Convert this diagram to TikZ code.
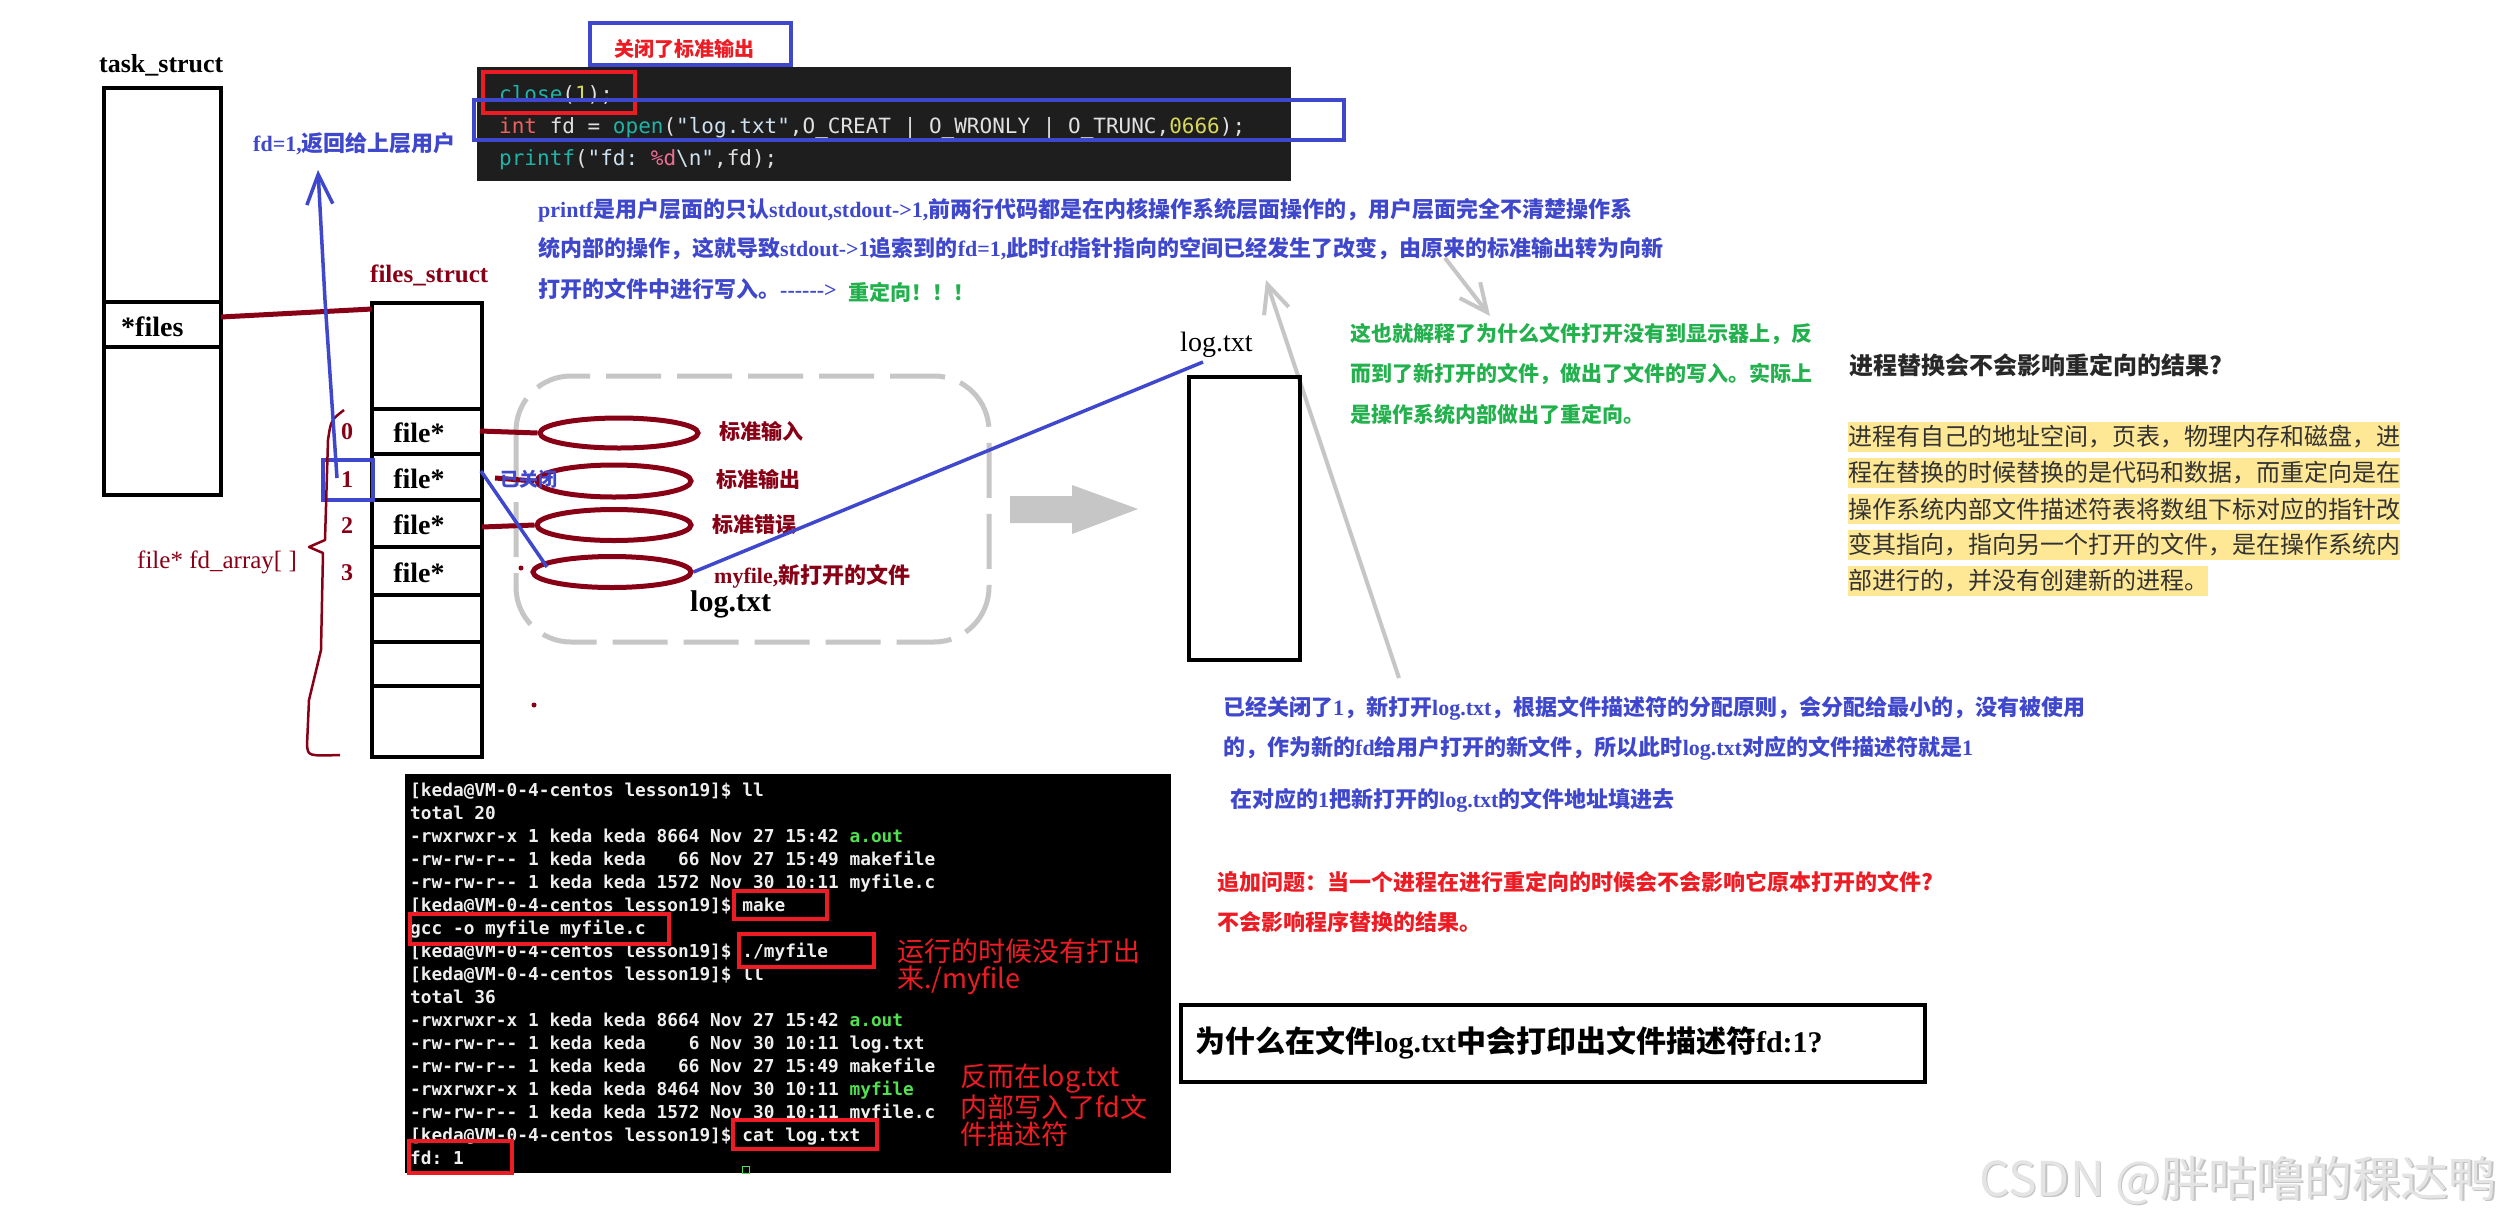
\documentclass[tikz,border=0pt]{standalone}
\usepackage{fontspec}
\setmainfont{Liberation Serif}
\setmonofont{DejaVu Sans Mono}[Ligatures=TeXOff]
\newfontfamily\cjk{Noto Sans CJK SC}
\newfontfamily\tnr{Liberation Serif}
\usetikzlibrary{arrows.meta,shapes.geometric}
\newcommand\fsz[1]{\fontsize{#1}{#1}\selectfont}
\newcommand\hy{-\kern0pt}
\definecolor{dred}{RGB}{136,0,21}
\definecolor{pblue}{RGB}{63,72,204}
\definecolor{pred}{RGB}{237,28,36}
\definecolor{pgreen}{RGB}{34,177,76}
\definecolor{lgray}{RGB}{198,198,198}
\definecolor{codebg}{RGB}{30,30,30}
\definecolor{hl}{RGB}{254,232,150}
\definecolor{cteal}{RGB}{30,180,168}
\definecolor{cint}{RGB}{240,96,96}
\definecolor{cnum}{RGB}{215,215,90}
\definecolor{cstr}{RGB}{206,225,240}
\definecolor{cpink}{RGB}{240,110,150}
\definecolor{cwhite}{RGB}{225,225,225}
\definecolor{twhite}{RGB}{238,238,238}
\definecolor{tgreen}{RGB}{80,225,80}
\definecolor{darktxt}{RGB}{40,40,40}
\definecolor{paratxt}{RGB}{51,51,51}
\definecolor{wm}{RGB}{228,228,228}
\definecolor{wmshadow}{RGB}{195,195,195}
\begin{document}
\begin{tikzpicture}[x=1pt,y=-1pt,
  lbl/.style={inner sep=0pt, anchor=west},
  blk/.style={draw=black, line width=4.5pt},
  drl/.style={draw=dred, line width=5pt},
  bl/.style={draw=pblue, line width=3.5pt},
  rbox/.style={draw=pred, line width=4pt},
  tbox/.style={draw=pred, line width=3.5pt},
  gr/.style={draw=lgray, line width=4pt},
  ell/.style={draw=dred, line width=5pt, ellipse, inner sep=0pt},
  tl/.style={inner sep=0pt, anchor=base west, font=\ttfamily\bfseries\fsz{17.8}, text=twhite},
  cl/.style={inner sep=0pt, anchor=base west, font=\ttfamily\fsz{21}, text=cwhite},
  filecell/.style={inner sep=0pt, font=\bfseries\fsz{28}},
  idx/.style={inner sep=0pt, font=\bfseries\fsz{24}, text=dred},
  bluepara/.style={lbl, font=\cjk\bfseries\fsz{22}, text=pblue},
  greenpara/.style={lbl, font=\cjk\bfseries\fsz{21}, text=pgreen},
  yellowpara/.style={lbl, font=\cjk\fsz{24}, text=paratxt},
  redpara/.style={lbl, font=\cjk\bfseries\fsz{22}, text=pred},
  rednote/.style={lbl, font=\cjk\fsz{27}, text=pred},
  darklbl/.style={lbl, font=\cjk\bfseries\fsz{21}, text=dred}]

\fill[white] (0,0) rectangle (2499,1221);
\useasboundingbox (0,0) rectangle (2499,1221);

% ---------- task_struct ----------
\node[lbl, font=\bfseries\fsz{26}] (tslabel) at (99,65) {task\_struct};
\draw[blk] (104,88) rectangle (221,495);
\draw[blk] (104,302) -- (221,302) (104,347) -- (221,347);
\node[lbl, font=\bfseries\fsz{28}] (files) at (121,327) {*files};

% ---------- files_struct ----------
\node[lbl, font=\bfseries\fsz{25}, text=dred] (fslabel) at (370,275) {files\_struct};
\draw[blk] (372,303) rectangle (482,757);
\foreach \yy in {409,454,500,547,595,642,686} \draw[blk] (372,\yy) -- (482,\yy);
\node[filecell] (f0) at (419,433) {file*};
\node[filecell] (f1) at (419,479) {file*};
\node[filecell] (f2) at (419,525) {file*};
\node[filecell] (f3) at (419,573) {file*};
\node[idx] (i0) at (347,432) {0};
\node[idx] (i1) at (347,480) {1};
\node[idx] (i2) at (347,526) {2};
\node[idx] (i3) at (347,573) {3};
\draw[bl] (323,460) rectangle (373,500);

% brace
\draw[dred, line width=2.5pt, line join=round]
  (344,410) .. controls (331,420) .. (328,440) -- (325,540) -- (309,547) -- (323,553)
  -- (321,650) -- (309,700) -- (307,745) .. controls (308,756) .. (340,755);
\node[lbl, font=\fsz{25}, text=dred] (fda) at (137,562) {file* fd\_array[ ]};

% *files -> files_struct
\coordinate (filesR) at (221,317);
\coordinate (fsL) at (372,309);
\draw[drl] (filesR) -- (fsL);

% ---------- dashed region ----------
\draw[lgray, line width=5pt, dash pattern=on 55pt off 16pt, rounded corners=55pt] (516,376) rectangle (989,642);

\node[ell, minimum width=158pt, minimum height=30pt] (e0) at (619,433) {};
\node[ell, minimum width=154pt, minimum height=32pt] (e1) at (614,481) {};
\node[ell, minimum width=154pt, minimum height=31pt] (e2) at (614,525) {};
\node[ell, minimum width=158pt, minimum height=31pt] (e3) at (612,572) {};

\coordinate (r0) at (480,431);
\coordinate (r1) at (495,478);
\coordinate (r2) at (482,527);
\draw[drl] (r0) -- (e0.west);
\draw[drl] (r1) -- (e1.west);
\draw[drl] (r2) -- (e2.west);
\fill[dred] (521,568) circle (2.5pt);
\fill[dred] (534,705) circle (2.5pt);

\node[lbl, font=\cjk\bfseries\fsz{19}, text=pblue] (closed) at (500,479) {已关闭};

\node[darklbl] (l0) at (719,431) {标准输入};
\node[darklbl] (l1) at (716,479) {标准输出};
\node[darklbl] (l2) at (712,525) {标准错误};
\node[darklbl, font=\cjk\bfseries\fsz{22}] (l3) at (714,576) {{\tnr myfile,}新打开的文件};
\node[lbl, font=\bfseries\fsz{30}] (login) at (690,604) {log.txt};

% blue connectors
\coordinate (f1R) at (481,471);
\coordinate (e3in) at (547,567);
\draw[bl] (f1R) -- (e3in);
\coordinate (logtop) at (1203,362);
\draw[bl] (e3.east) -- (logtop);

% arrow up to fd=1 label
\node[lbl, font=\cjk\bfseries\fsz{22}, text=pblue] (fdret) at (253,144) {{\tnr fd=1,}返回给上层用户};
\coordinate (one) at (337,478);
\coordinate (fdtip) at (318,170);
\draw[bl, -{Straight Barb[length=30pt,width=26pt]}] (one) -- (325,300) -- (fdtip);

% ---------- code ----------
\draw[bl] (590,23) rectangle (791,65);
\node[inner sep=0pt, font=\cjk\bfseries\fsz{20}, text=pred] (ttl) at (684,49) {关闭了标准输出};
\fill[codebg] (477,67) rectangle (1291,181);
\node[cl] (c1) at (499,101) {\textcolor{cteal}{close}(\textcolor{cnum}{1});};
\node[cl] (c2) at (499,133) {\textcolor{cint}{int} fd = \textcolor{cteal}{open}(\textcolor{cstr}{"log.txt"},O\_CREAT | O\_WRONLY | O\_TRUNC,\textcolor{cnum}{0666});};
\node[cl] (c3) at (499,165) {\textcolor{cteal}{printf}(\textcolor{cstr}{"fd: }\textcolor{cpink}{\%d}\textcolor{cstr}{\textbackslash n"},fd);};
\draw[rbox] (483,72) rectangle (635,113);
\draw[bl, line width=4pt] (474,100) rectangle (1344,140);

% blue paragraph
\node[bluepara] (p1) at (538,210) {{\tnr printf}是用户层面的只认{\tnr stdout,stdout->1,}前两行代码都是在内核操作系统层面操作的，用户层面完全不清楚操作系};
\node[bluepara] (p2) at (538,249) {统内部的操作，这就导致{\tnr stdout->1}追索到的{\tnr fd=1,}此时{\tnr fd}指针指向的空间已经发生了改变，由原来的标准输出转为向新};
\node[bluepara] (p3) at (538,289) {打开的文件中进行写入。{\tnr\hy\hy\hy\hy\hy\hy>}};
\node[lbl, font=\cjk\bfseries\fsz{21}, text=pgreen] (redir) at (848,292) {重定向！！！};

% gray arrows
\coordinate (gA1) at (1399,678);
\coordinate (gA2) at (1266,280);
\draw[gr, -{Straight Barb[length=28pt,width=26pt]}] (gA1) -- (gA2);
\coordinate (gB1) at (1445,258);
\coordinate (gB2) at (1490,316);
\draw[gr, -{Straight Barb[length=28pt,width=26pt]}] (gB1) -- (gB2);
\fill[lgray] (1010,496) -- (1072,496) -- (1072,485) -- (1138,509) -- (1072,534) -- (1072,523) -- (1010,523) -- cycle;

% log.txt box
\node[lbl, font=\fsz{28}] (logtxt) at (1180,345) {log.txt};
\draw[blk] (1189,377) rectangle (1300,660);

% green paragraph
\node[greenpara] (g1) at (1350,334) {这也就解释了为什么文件打开没有到显示器上，反};
\node[greenpara] (g2) at (1350,374) {而到了新打开的文件，做出了文件的写入。实际上};
\node[greenpara] (g3) at (1350,414) {是操作系统内部做出了重定向。};

% heading + yellow paragraph
\node[lbl, font=\cjk\bfseries\fsz{24}, text=darktxt] (hd) at (1849,365) {进程替换会不会影响重定向的结果?};
\fill[hl] (1848,422) rectangle (2400,452);
\fill[hl] (1848,458) rectangle (2400,488);
\fill[hl] (1848,494) rectangle (2400,524);
\fill[hl] (1848,530) rectangle (2400,560);
\fill[hl] (1848,566) rectangle (2208,596);
\node[yellowpara] (y1) at (1848,437) {进程有自己的地址空间，页表，物理内存和磁盘，进};
\node[yellowpara] (y2) at (1848,473) {程在替换的时候替换的是代码和数据，而重定向是在};
\node[yellowpara] (y3) at (1848,509) {操作系统内部文件描述符表将数组下标对应的指针改};
\node[yellowpara] (y4) at (1848,545) {变其指向，指向另一个打开的文件，是在操作系统内};
\node[yellowpara] (y5) at (1848,581) {部进行的，并没有创建新的进程。};

% bottom blue paragraph
\node[bluepara] (b1) at (1223,708) {已经关闭了{\tnr 1}，新打开{\tnr log.txt}，根据文件描述符的分配原则，会分配给最小的，没有被使用};
\node[bluepara] (b2) at (1223,748) {的，作为新的{\tnr fd}给用户打开的新文件，所以此时{\tnr log.txt}对应的文件描述符就是{\tnr 1}};
\node[bluepara] (b3) at (1230,800) {在对应的{\tnr 1}把新打开的{\tnr log.txt}的文件地址填进去};

% red paragraph
\node[redpara] (q1) at (1217,882) {追加问题：当一个进程在进行重定向的时候会不会影响它原本打开的文件?};
\node[redpara] (q2) at (1217,922) {不会影响程序替换的结果。};

% question box
\draw[blk] (1181,1005) rectangle (1925,1082);
\node[lbl, font=\cjk\bfseries\fsz{30}, text=black] (qb) at (1195,1043) {为什么在文件{\tnr log.txt}中会打印出文件描述符{\tnr fd:1?}};

% ---------- terminal ----------
\fill[black] (405,774) rectangle (1171,1173);
\node[tl] (t1) at (410,796) {[keda@VM-0-4-centos lesson19]\$ ll};
\node[tl] (t2) at (410,819) {total 20};
\node[tl] (t3) at (410,842) {-rwxrwxr-x 1 keda keda 8664 Nov 27 15:42 \textcolor{tgreen}{a.out}};
\node[tl] (t4) at (410,865) {-rw-rw-r-- 1 keda keda~~~66 Nov 27 15:49 makefile};
\node[tl] (t5) at (410,888) {-rw-rw-r-- 1 keda keda 1572 Nov 30 10:11 myfile.c};
\node[tl] (t6) at (410,911) {[keda@VM-0-4-centos lesson19]\$ make};
\node[tl] (t7) at (410,934) {gcc -o myfile myfile.c};
\node[tl] (t8) at (410,957) {[keda@VM-0-4-centos lesson19]\$ ./myfile};
\node[tl] (t9) at (410,980) {[keda@VM-0-4-centos lesson19]\$ ll};
\node[tl] (t10) at (410,1003) {total 36};
\node[tl] (t11) at (410,1026) {-rwxrwxr-x 1 keda keda 8664 Nov 27 15:42 \textcolor{tgreen}{a.out}};
\node[tl] (t12) at (410,1049) {-rw-rw-r-- 1 keda keda~~~~6 Nov 30 10:11 log.txt};
\node[tl] (t13) at (410,1072) {-rw-rw-r-- 1 keda keda~~~66 Nov 27 15:49 makefile};
\node[tl] (t14) at (410,1095) {-rwxrwxr-x 1 keda keda 8464 Nov 30 10:11 \textcolor{tgreen}{myfile}};
\node[tl] (t15) at (410,1118) {-rw-rw-r-- 1 keda keda 1572 Nov 30 10:11 myfile.c};
\node[tl] (t16) at (410,1141) {[keda@VM-0-4-centos lesson19]\$ cat log.txt};
\node[tl] (t17) at (410,1164) {fd: 1};
\draw[tgreen, line width=1pt] (742,1166) rectangle (749,1173);
\draw[tbox] (734,891) rectangle (827,919);
\draw[tbox] (410,914) rectangle (669,944);
\draw[tbox] (739,934) rectangle (874,967);
\draw[tbox] (733,1120) rectangle (877,1149);
\draw[tbox] (409,1141) rectangle (512,1173);

\node[rednote] (n1) at (897,951) {运行的时候没有打出};
\node[rednote] (n2) at (897,980) {来./myfile};
\node[rednote] (n3) at (960,1079) {反而在log.txt};
\node[rednote] (n4) at (960,1107) {内部写入了fd文};
\node[rednote] (n5) at (960,1134) {件描述符};

% watermark
\node[anchor=east, inner sep=0pt, font=\cjk\fsz{48}, text=wmshadow] (wms) at (2498.5,1181.5) {CSDN @胖咕噜的稞达鸭};
\node[anchor=east, inner sep=0pt, font=\cjk\fsz{48}, text=wm] (wmk) at (2497,1180) {CSDN @胖咕噜的稞达鸭};
\end{tikzpicture}
\end{document}
